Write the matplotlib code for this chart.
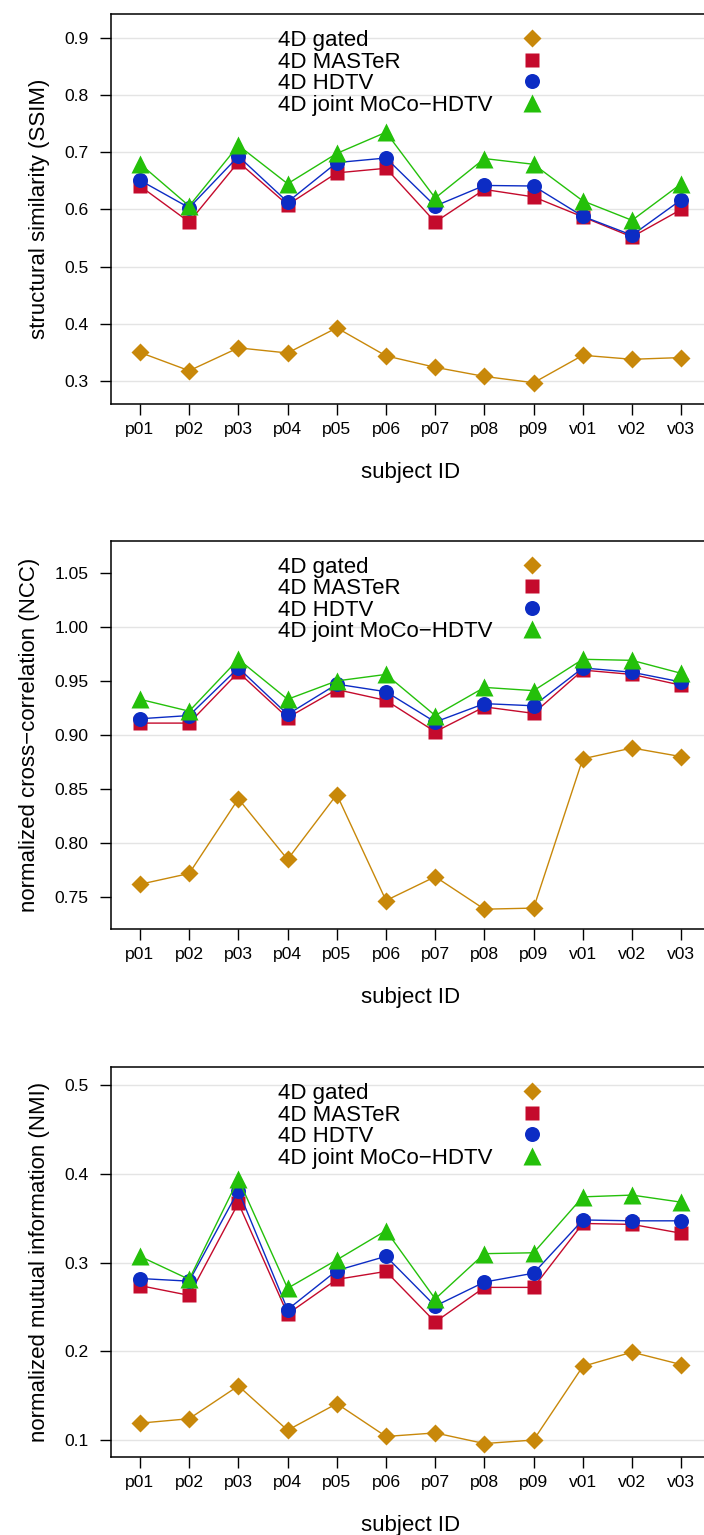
#!/usr/bin/env python3
"""Per-subject image quality metrics (SSIM / NCC / NMI) for four reconstructions."""
import numpy as np
import matplotlib
matplotlib.use("Agg")
import matplotlib.pyplot as plt
from matplotlib.lines import Line2D

plt.rcParams["font.family"] = ["Liberation Sans", "DejaVu Sans"]

subjects = ["p01", "p02", "p03", "p04", "p05", "p06", "p07", "p08", "p09",
            "v01", "v02", "v03"]
methods = ["4D gated", "4D MASTeR", "4D HDTV", "4D joint MoCo\u2212HDTV"]

# --- values read per subject ------------------------------------------------
ssim_gated = [0.350, 0.318, 0.358, 0.349, 0.393, 0.344, 0.324, 0.308, 0.297, 0.345, 0.338, 0.341]
ssim_master = [0.641, 0.578, 0.683, 0.608, 0.664, 0.672, 0.578, 0.635, 0.622, 0.587, 0.552, 0.600]
ssim_hdtv = [0.651, 0.603, 0.693, 0.613, 0.682, 0.690, 0.606, 0.642, 0.641, 0.588, 0.555, 0.617]
ssim_moco = [0.680, 0.606, 0.712, 0.645, 0.698, 0.735, 0.620, 0.689, 0.679, 0.615, 0.581, 0.645]

ncc_gated = [0.762, 0.772, 0.841, 0.785, 0.845, 0.747, 0.769, 0.739, 0.740, 0.878, 0.888, 0.880]
ncc_master = [0.911, 0.911, 0.958, 0.916, 0.942, 0.932, 0.903, 0.926, 0.920, 0.960, 0.956, 0.946]
ncc_hdtv = [0.915, 0.918, 0.962, 0.919, 0.947, 0.940, 0.912, 0.929, 0.927, 0.962, 0.958, 0.949]
ncc_moco = [0.933, 0.922, 0.970, 0.933, 0.950, 0.956, 0.918, 0.944, 0.941, 0.970, 0.969, 0.957]

nmi_gated = [0.119, 0.124, 0.161, 0.111, 0.141, 0.104, 0.108, 0.096, 0.100, 0.183, 0.199, 0.185]
nmi_master = [0.274, 0.263, 0.367, 0.242, 0.281, 0.290, 0.233, 0.272, 0.272, 0.344, 0.343, 0.333]
nmi_hdtv = [0.282, 0.279, 0.381, 0.247, 0.291, 0.307, 0.251, 0.278, 0.288, 0.348, 0.347, 0.347]
nmi_moco = [0.307, 0.281, 0.394, 0.271, 0.303, 0.336, 0.259, 0.310, 0.311, 0.374, 0.376, 0.368]

ylabels = ["structural similarity (SSIM)",
           "normalized cross\u2212correlation (NCC)",
           "normalized mutual information (NMI)"]
yticks = [[0.3, 0.4, 0.5, 0.6, 0.7, 0.8, 0.9],
          [0.75, 0.80, 0.85, 0.90, 0.95, 1.00, 1.05],
          [0.1, 0.2, 0.3, 0.4, 0.5]]
ytickfmt = ["%.1f", "%.2f", "%.1f"]
gridlv = [[0.3, 0.4, 0.5, 0.6, 0.7, 0.8, 0.9],
          [0.80, 0.90, 1.00],
          [0.1, 0.2, 0.3, 0.4, 0.5]]
ylims = [(0.2598, 0.9413), (0.7204, 1.0796), (0.0812, 0.5200)]

panels = [
    [ssim_gated, ssim_master, ssim_hdtv, ssim_moco],
    [ncc_gated, ncc_master, ncc_hdtv, ncc_moco],
    [nmi_gated, nmi_master, nmi_hdtv, nmi_moco],
]

colors = ["#C8880A", "#C40A2C", "#0C2CC4", "#24C00A"]
markers = ["D", "s", "o", "^"]
msizes = [9.5, 10.3, 10.8, 13.0]

W, H = 704, 1535
fig = plt.figure(figsize=(W / 100, H / 100), dpi=100)

# axes boxes in pixels: (top, bottom); right edge runs past the figure
boxes = [(14.3, 404.0), (540.7, 929.3), (1067.3, 1456.7)]
left_px, right_px = 110.7, 710.5

x = np.arange(1, len(subjects) + 1)
for k, (top, bot) in enumerate(boxes):
    ax = fig.add_axes([left_px / W, 1 - bot / H, (right_px - left_px) / W, (bot - top) / H])
    for g in gridlv[k]:
        ax.axhline(g, color="#E4E4E4", lw=1.0, zorder=0)
    for vals, c, m, ms in zip(panels[k], colors, markers, msizes):
        ax.plot(x, vals, "-", color=c, lw=1.0, marker=m, ms=ms, mec="none", zorder=3)

    ax.set_xlim(0.405, 12.595)
    ax.set_ylim(*ylims[k])
    ax.set_xticks(x)
    ax.set_xticklabels(subjects)
    ax.set_yticks(yticks[k])
    ax.set_yticklabels([ytickfmt[k] % v for v in yticks[k]])
    ax.tick_params(direction="out", length=8, width=1.0, labelsize=12.6, colors="black")
    ax.tick_params(axis="x", pad=5.0)
    ax.tick_params(axis="y", pad=8)
    ax.spines["right"].set_visible(False)
    for s in ("left", "top", "bottom"):
        ax.spines[s].set_linewidth(1.1)
    ax.set_xlabel("subject ID", fontsize=16, labelpad=18)
    ax.set_ylabel(ylabels[k], fontsize=16, labelpad=10)

    # legend: left-aligned labels, symbols in a column to their right
    blank = [Line2D([], [], ls="none") for _ in methods]
    leg_txt = ax.legend(blank, methods, loc="upper left", bbox_to_anchor=(0.2789, 0.959),
                        frameon=False, fontsize=16, handlelength=0, handletextpad=0,
                        labelspacing=0.02, borderpad=0, borderaxespad=0)
    ax.add_artist(leg_txt)
    syms = [Line2D([], [], ls="none", color=c, marker=m, ms=ms, mec="none")
            for c, m, ms in zip(colors, markers, msizes)]
    ax.legend(syms, [" "] * len(syms), loc="upper left", bbox_to_anchor=(0.6839, 0.959),
              frameon=False, fontsize=16, numpoints=1, handlelength=1.0, handletextpad=0,
              labelspacing=0.02, borderpad=0, borderaxespad=0)

fig.savefig("out.png", dpi=100)
